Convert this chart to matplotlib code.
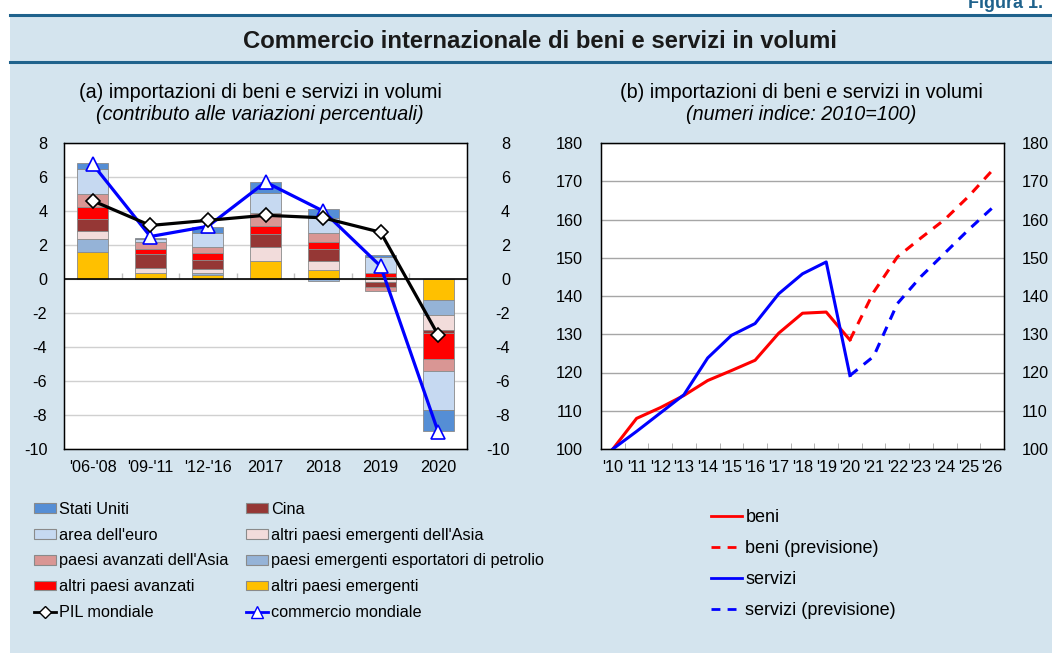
import numpy as np
import matplotlib
matplotlib.use("Agg")
import matplotlib.pyplot as plt
from matplotlib.patches import Rectangle, Patch
from matplotlib.lines import Line2D

plt.rcParams['font.family'] = ['Liberation Sans', 'DejaVu Sans']
plt.rcParams['axes.unicode_minus'] = False

# (a) contributi alle variazioni percentuali delle importazioni
periodi = ["'06-'08", "'09-'11", "'12-'16", "2017", "2018", "2019", "2020"]
altri_emergenti = [1.61, 0.33, 0.22, 1.04, 0.51, 0.12, -1.24]
petrolio = [0.76, 0.00, 0.12, 0.00, -0.10, 0.00, -0.86]
altri_asia_em = [0.47, 0.29, 0.24, 0.86, 0.57, -0.15, -0.90]
cina = [0.71, 0.86, 0.51, 0.73, 0.67, -0.33, -0.20]
altri_avanzati = [0.71, 0.27, 0.43, 0.47, 0.41, 0.22, -1.51]
avanzati_asia = [0.73, 0.45, 0.39, 0.76, 0.55, -0.20, -0.71]
area_euro = [1.47, 0.14, 0.78, 1.22, 0.86, 0.94, -2.29]
stati_uniti = [0.35, 0.10, 0.39, 0.61, 0.53, 0.14, -1.24]
pil_mondiale = [4.6, 3.15, 3.45, 3.75, 3.6, 2.75, -3.3]
commercio_mondiale = [6.75, 2.5, 3.1, 5.7, 4.0, 0.75, -9.0]

# (b) numeri indice 2010=100
anni = ["'10", "'11", "'12", "'13", "'14", "'15", "'16", "'17", "'18",
        "'19", "'20", "'21", "'22", "'23", "'24", "'25", "'26"]
beni = [100, 108.0, 110.8, 114.0, 117.9, 120.5, 123.2, 130.3, 135.5, 135.8, 128.5]
beni_prev = [141.0, 150.2, 155.2, 160.0, 166.0, 172.8]
servizi = [100, 104.6, 109.4, 114.2, 123.8, 129.7, 132.8, 140.6, 145.8, 148.9, 119.2]
servizi_prev = [124.2, 138.0, 145.1, 151.2, 157.3, 163.0]

BG = '#d4e4ee'
HEAD = '#1f628c'
TICK_FS = 11.7

W, H = 1052, 653
fig = plt.figure(figsize=(W / 100, H / 100), dpi=100)
fig.patch.set_facecolor('white')

def fx(px):
    return px / W

def fy(py):
    return 1 - py / H

fig.add_artist(Rectangle((fx(10), 0), 1 - fx(10), fy(15), transform=fig.transFigure,
                         facecolor=BG, edgecolor='none', zorder=0))
for yy in (15, 62):
    fig.add_artist(Line2D([fx(10), 1], [fy(yy), fy(yy)], color=HEAD, lw=2.2, zorder=1))
fig.text(fx(968), fy(8), 'Figura 1.', color=HEAD, fontsize=13, fontweight='bold',
         va='baseline', ha='left')
fig.text(fx(540), fy(41), 'Commercio internazionale di beni e servizi in volumi',
         fontweight='bold', fontsize=17.2, ha='center', va='center', color='#1a1a1a')

# ---------------- pannello (a) ----------------
ax1 = fig.add_axes([fx(64), fy(449), fx(467) - fx(64), fy(143) - fy(449)])
x = np.arange(len(periodi))
serie = [
    (altri_emergenti, '#ffc000', 'altri paesi emergenti'),
    (petrolio, '#95b3d7', 'paesi emergenti esportatori di petrolio'),
    (altri_asia_em, '#f2dcdb', "altri paesi emergenti dell'Asia"),
    (cina, '#953735', 'Cina'),
    (altri_avanzati, '#ff0000', 'altri paesi avanzati'),
    (avanzati_asia, '#d99694', "paesi avanzati dell'Asia"),
    (area_euro, '#c6d9f1', "area dell'euro"),
    (stati_uniti, '#558ed5', 'Stati Uniti'),
]
pos = np.zeros(len(x))
neg = np.zeros(len(x))
for vals, col, lab in serie:
    v = np.array(vals)
    base = np.where(v >= 0, pos, neg)
    ax1.bar(x, v, width=0.54, bottom=base, color=col, edgecolor='#8a8a8a',
            linewidth=0.6, zorder=2)
    pos += np.clip(v, 0, None)
    neg += np.clip(v, None, 0)

ax1.axhline(0, color='black', lw=1.2, zorder=3)
ax1.vlines(x[:-1] + 0.5, 0, 0.35, color='#c0c0c0', lw=1, zorder=1)
ax1.plot(x, commercio_mondiale, color='#0000ff', lw=2.3, marker='^', ms=10,
         mfc='white', mec='#0000ff', mew=1.2, zorder=5)
ax1.plot(x, pil_mondiale, color='black', lw=2.3, marker='D', ms=7.5,
         mfc='white', mec='black', mew=1.2, zorder=6)

ax1.set_xlim(-0.5, len(x) - 0.5)
ax1.set_ylim(-10, 8)
ax1.set_yticks(range(-10, 9, 2))
ax1.yaxis.grid(True, color='#d0d0d0', lw=1)
ax1.set_axisbelow(True)
ax1.set_xticks(x)
ax1.set_xticklabels(periodi)
ax1.tick_params(axis='both', length=0, labelsize=TICK_FS)
ax1.tick_params(axis='y', pad=12)
ax1.tick_params(axis='x', pad=8)
for s in ax1.spines.values():
    s.set_linewidth(1.0)

ax1r = ax1.twinx()
ax1r.set_ylim(-10, 8)
ax1r.set_yticks(range(-10, 9, 2))
ax1r.tick_params(axis='y', length=0, labelsize=TICK_FS, pad=31)
for lab in ax1r.get_yticklabels():
    lab.set_horizontalalignment('right')

fig.text(fx(260), fy(93), '(a) importazioni di beni e servizi in volumi',
         fontsize=14.2, ha='center', va='center')
fig.text(fx(260), fy(115), '(contributo alle variazioni percentuali)',
         fontsize=14.2, style='italic', ha='center', va='center')

# legenda (a)
patch_h = {lab: Patch(facecolor=col, edgecolor='#8a8a8a', linewidth=0.8)
           for vals, col, lab in serie}
pil_h = Line2D([], [], color='black', lw=2, marker='D', ms=6, mfc='white', mec='black')
com_h = Line2D([], [], color='#0000ff', lw=2, marker='^', ms=8, mfc='white', mec='#0000ff')
col1 = ['Stati Uniti', "area dell'euro", "paesi avanzati dell'Asia", 'altri paesi avanzati']
col2 = ['Cina', "altri paesi emergenti dell'Asia", 'paesi emergenti esportatori di petrolio',
        'altri paesi emergenti']
leg_kw = dict(frameon=False, fontsize=11.7, handlelength=1.38, handleheight=0.55,
              handletextpad=0.15, labelspacing=0.66, borderaxespad=0, borderpad=0)
fig.legend([patch_h[l] for l in col1] + [pil_h], col1 + ['PIL mondiale'],
           loc='upper left', bbox_to_anchor=(fx(34), fy(502)), **leg_kw)
fig.legend([patch_h[l] for l in col2] + [com_h], col2 + ['commercio mondiale'],
           loc='upper left', bbox_to_anchor=(fx(246), fy(502)), **leg_kw)

# ---------------- pannello (b) ----------------
ax2 = fig.add_axes([fx(601), fy(449), fx(1004) - fx(601), fy(143) - fy(449)])
xa = np.arange(len(anni))
n = len(beni)
ax2.plot(xa[:n], beni, color='#ff0000', lw=2.2, zorder=3)
ax2.plot(xa[n - 1:], [beni[-1]] + beni_prev, color='#ff0000', lw=2.2,
         dashes=(3.2, 2.6), zorder=3)
ax2.plot(xa[:n], servizi, color='#0000ff', lw=2.2, zorder=3)
ax2.plot(xa[n - 1:], [servizi[-1]] + servizi_prev, color='#0000ff', lw=2.2,
         dashes=(3.2, 2.6), zorder=3)

ax2.set_xlim(-0.5, len(anni) - 0.5)
ax2.set_ylim(100, 180)
ax2.set_yticks(range(100, 181, 10))
ax2.yaxis.grid(True, color='#a6a6a6', lw=1)
ax2.set_axisbelow(True)
ax2.set_xticks(xa)
ax2.set_xticklabels(anni)
ax2.set_xticks(xa[:-1] + 0.5, minor=True)
ax2.tick_params(axis='x', which='major', length=0, labelsize=TICK_FS, pad=8)
ax2.tick_params(axis='x', which='minor', direction='in', length=4, color='#a6a6a6')
ax2.tick_params(axis='y', length=0, labelsize=TICK_FS, pad=13)
for s in ax2.spines.values():
    s.set_linewidth(1.0)

ax2r = ax2.twinx()
ax2r.set_ylim(100, 180)
ax2r.set_yticks(range(100, 181, 10))
ax2r.tick_params(axis='y', length=0, labelsize=TICK_FS, pad=13)

fig.text(fx(801), fy(93), '(b) importazioni di beni e servizi in volumi',
         fontsize=14.2, ha='center', va='center')
fig.text(fx(801), fy(115), '(numeri indice: 2010=100)',
         fontsize=14.2, style='italic', ha='center', va='center')

h_b = Line2D([], [], color='#ff0000', lw=2)
h_bp = Line2D([], [], color='#ff0000', lw=2, dashes=(3.2, 2.6))
h_s = Line2D([], [], color='#0000ff', lw=2)
h_sp = Line2D([], [], color='#0000ff', lw=2, dashes=(3.2, 2.6))
fig.legend([h_b, h_bp, h_s, h_sp],
           ['beni', 'beni (previsione)', 'servizi', 'servizi (previsione)'],
           loc='upper left', bbox_to_anchor=(fx(711), fy(509)), frameon=False,
           fontsize=13, handlelength=1.7, handletextpad=0.2, labelspacing=0.78,
           borderaxespad=0, borderpad=0)

fig.savefig('out.png', dpi=100, facecolor=fig.get_facecolor())
